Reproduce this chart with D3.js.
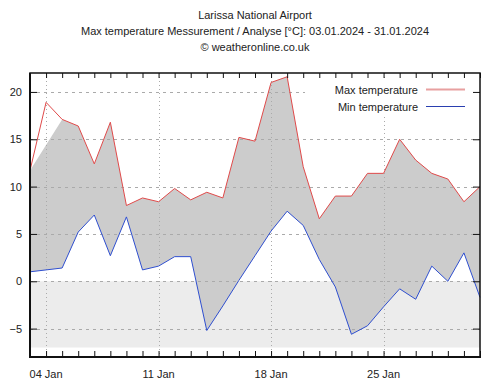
<!DOCTYPE html>
<html><head><meta charset="utf-8">
<script src="https://cdn.jsdelivr.net/npm/d3@7"></script>
<style>html,body{margin:0;padding:0;background:#fff;}svg{display:block;font-family:"Liberation Sans",Arial,sans-serif;}</style>
</head><body>
<svg id="c" width="496" height="386"></svg>
<script>
const titleLines = ["Larissa National Airport", "Max temperature Messurement / Analyse [°C]: 03.01.2024 - 31.01.2024", "© weatheronline.co.uk"];
const dates = ["2024-01-03","2024-01-04","2024-01-05","2024-01-06","2024-01-07","2024-01-08","2024-01-09","2024-01-10","2024-01-11","2024-01-12","2024-01-13","2024-01-14","2024-01-15","2024-01-16","2024-01-17","2024-01-18","2024-01-19","2024-01-20","2024-01-21","2024-01-22","2024-01-23","2024-01-24","2024-01-25","2024-01-26","2024-01-27","2024-01-28","2024-01-29","2024-01-30","2024-01-31"];
const maxTemp = [11.7,18.9,17.1,16.4,12.4,16.8,8.0,8.8,8.4,9.8,8.6,9.4,8.8,15.2,14.8,21.0,21.6,12.1,6.6,9.0,9.0,11.4,11.4,15.0,12.8,11.4,10.8,8.4,10.0];
const minTemp = [1.0,1.2,1.4,5.2,7.0,2.7,6.8,1.2,1.6,2.6,2.6,-5.2,-2.6,0.1,2.7,5.3,7.4,5.9,2.3,-0.6,-5.6,-4.7,-2.7,-0.8,-1.9,1.6,0.0,3.0,-1.7];
const bandTopSkip = ["2024-01-04"];
const yTicks = [-5,0,5,10,15,20];
const xLabelDates = ["2024-01-04","2024-01-11","2024-01-18","2024-01-25"];
const belowZeroBand = [0,-7];
const legendNames = ["Max temperature","Min temperature"];

(function(){
const parse = d3.utcParse("%Y-%m-%d");
const D = dates.map(parse);
const svg = d3.select("#c");
const L = 30, R = 480, T = 73, B = 357;
const x = d3.scaleUtc().domain([D[0], D[D.length-1]]).range([L, R]);
const y = d3.scaleLinear().domain([-8, 22]).range([B, T]);

const colMax = "#e04a4a", colMin = "#2f4fd0";

// title
svg.append("g").selectAll("text").data(titleLines).join("text")
  .attr("x", 255).attr("y", (d,i)=>19 + i*16).attr("text-anchor","middle")
  .attr("font-size", 11).attr("fill","#222").text(d=>d);

// below zero band
svg.append("rect").attr("x", L).attr("width", R-L)
  .attr("y", y(belowZeroBand[0])).attr("height", y(belowZeroBand[1]) - y(belowZeroBand[0]))
  .attr("fill", "#ececec");

// grey band between max & min
const bandTop = D.map((d,i)=>({d, v:maxTemp[i], s:dates[i]})).filter(p=>!bandTopSkip.includes(p.s));
const bandBot = D.map((d,i)=>({d, v:minTemp[i]})).reverse();
const poly = bandTop.concat(bandBot);
svg.append("path").attr("d", d3.line().x(p=>x(p.d)).y(p=>y(p.v))(poly) + "Z")
  .attr("fill", "#cccccc");

// grid
const grid = svg.append("g");
grid.selectAll("line.h").data(yTicks).join("line").attr("class","h")
  .attr("x1", L).attr("x2", R).attr("y1", d=>Math.round(y(d))+0.5).attr("y2", d=>Math.round(y(d))+0.5)
  .attr("stroke", "#aaa").attr("stroke-width",1).attr("stroke-dasharray","3,4");
grid.selectAll("line.v").data(xLabelDates.map(parse)).join("line").attr("class","v")
  .attr("y1", T).attr("y2", B).attr("x1", d=>Math.round(x(d))+0.5).attr("x2", d=>Math.round(x(d))+0.5)
  .attr("stroke", "#aaa").attr("stroke-width",1).attr("stroke-dasharray","1,3");

// lines
const line = d3.line().x((d,i)=>x(D[i])).y(d=>y(d));
svg.append("path").attr("d", line(maxTemp)).attr("fill","none").attr("stroke", colMax).attr("stroke-width",1);
svg.append("path").attr("d", line(minTemp)).attr("fill","none").attr("stroke", colMin).attr("stroke-width",1);

// legend
svg.append("rect").attr("x",305).attr("y",79).attr("width",173).attr("height",36).attr("fill","#fff");
const lg = svg.append("g");
legendNames.forEach((n,i)=>{
  const yy = 89.5 + i*17;
  lg.append("text").attr("x",418).attr("y",yy+4).attr("text-anchor","end").attr("font-size",11).attr("fill","#222").text(n);
  lg.append("line").attr("x1",426).attr("x2",465).attr("y1",yy).attr("y2",yy)
    .attr("stroke", i===0 ? "#e8a0a0" : "#2a3fb0").attr("stroke-width", i===0 ? 2 : 1);
});

// axes ticks
const xb = d3.axisBottom(x).ticks(d3.utcDay.every(1)).tickSize(-6).tickFormat("");
const xt = d3.axisTop(x).ticks(d3.utcDay.every(1)).tickSize(-5).tickFormat("");
const gxb = svg.append("g").attr("transform",`translate(0,${B})`).call(xb);
const gxt = svg.append("g").attr("transform",`translate(0,${T})`).call(xt);
const yl = d3.axisLeft(y).tickValues(yTicks).tickSize(-7).tickPadding(8).tickFormat(d3.format("d"));
const yr = d3.axisRight(y).tickValues(yTicks).tickSize(-7).tickFormat("");
const gyl = svg.append("g").attr("transform",`translate(${L},0)`).call(yl);
const gyr = svg.append("g").attr("transform",`translate(${R},0)`).call(yr);
[gxb,gxt,gyl,gyr].forEach(g=>{
  g.select(".domain").remove();
  g.selectAll(".tick line").attr("stroke","#111");
  g.selectAll("text").attr("font-size",11).attr("fill","#222").attr("font-family","Liberation Sans, Arial, sans-serif");
});
// frame
svg.append("rect").attr("x",L).attr("y",T).attr("width",R-L).attr("height",B-T)
  .attr("fill","none").attr("stroke","#111").attr("stroke-width",1.5);
svg.append("line").attr("x1",L-1).attr("x2",R+1).attr("y1",B).attr("y2",B).attr("stroke","#111").attr("stroke-width",2);
svg.append("line").attr("x1",L).attr("x2",L).attr("y1",T).attr("y2",B).attr("stroke","#111").attr("stroke-width",2);

// x labels
svg.append("g").selectAll("text").data(xLabelDates.map(parse)).join("text")
  .attr("x", d=>x(d)).attr("y", 378).attr("text-anchor","middle").attr("font-size",11).attr("fill","#222")
  .text(d3.utcFormat("%d Jan"));
})();
</script>
</body></html>
